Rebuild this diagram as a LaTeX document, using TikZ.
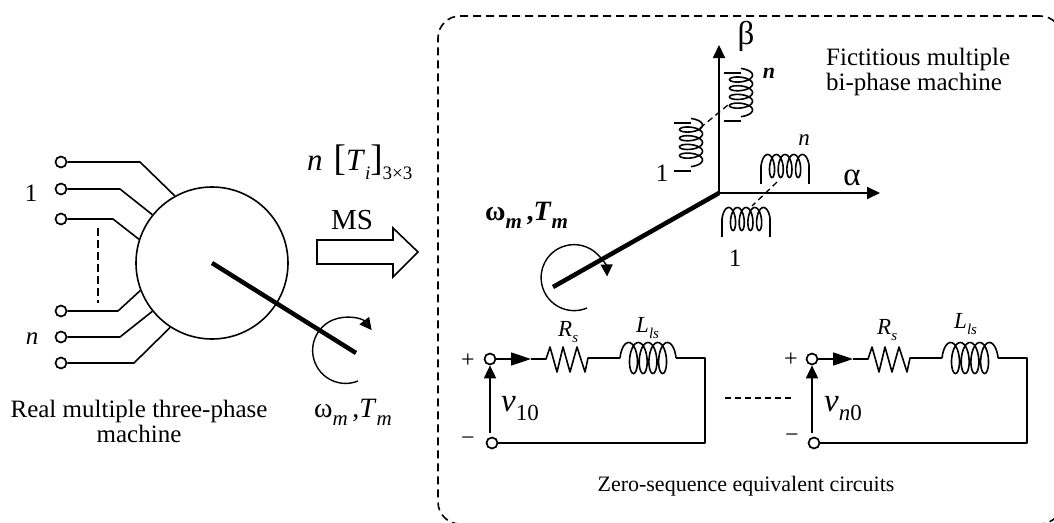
\documentclass[tikz,border=0pt]{standalone}
\usepackage{fontspec}
\setmainfont{Liberation Serif}
\usetikzlibrary{arrows.meta,positioning}
\newcommand{\px}[1]{\fontsize{#1}{#1}\selectfont}
\newcommand{\lowtxt}[2]{\raisebox{-.3em}{\px{#1}#2}}
% coil: position, rotation, pitch, loop half width, loop height
\newcommand{\coil}[5]{\draw[wire,shift={(#1)},rotate=#2] plot[smooth,domain=0:1620,samples=163,variable=\t] ({#3*\t/360-#4*cos(\t)},{-#5*sin(\t)});}
\begin{document}
\begin{tikzpicture}[
  x=1pt,y=-1pt,
  font=\px{25},
  txt/.style={inner sep=0pt,align=center},
  wire/.style={line width=1.6pt,line join=round},
  term/.style={draw,circle,line width=1.7pt,fill=white,inner sep=0pt,minimum size=11pt},
  arr/.style={line width=1.8pt,-{Triangle[length=13pt,width=12pt]}},
  flow/.style={line width=1.6pt,-{Triangle[length=20pt,width=13pt]}},
  turn/.style={line width=1.4pt,-{Triangle[length=12pt,width=12pt]}},
  link/.style={line width=1.3pt,dash pattern=on 6pt off 4pt},
  shaft/.style={line width=4.5pt}
]
\useasboundingbox (0,0) rectangle (1054,522);
\clip (0,0) rectangle (1054,522);
% real machine
\node[draw,circle,line width=1.6pt,minimum size=152pt,inner sep=0pt] (machine) at (212,263) {};
\node[term] (ta) at (61,162) {};
\node[term] (tb) at (61,189) {};
\node[term] (tc) at (61,219) {};
\node[term] (td) at (61,311) {};
\node[term] (te) at (61,337) {};
\node[term] (tf) at (61,363) {};
\draw[wire] (ta) -- (140,162) -- (machine.119);
\draw[wire] (tb) -- (120,189) -- (machine.141);
\draw[wire] (tc) -- (113,219) -- (machine.162);
\draw[wire] (td) -- (118,311) -- (machine.201);
\draw[wire] (te) -- (120,337) -- (machine.219);
\draw[wire] (tf) -- (134,363) -- (machine.237);
\coordinate (dashtop) at (98,228);
\coordinate (dashbot) at (98,303);
\draw[link,line width=1.5pt,dash pattern=on 8pt off 4pt] (dashtop) -- (dashbot);
\coordinate (shaftend) at (356,353);
\draw[shaft] (machine.center) -- (shaftend);
\draw[turn] (358,381) arc[start angle=68,end angle=322,radius=33];
\node[txt] (one) at (31,193) {1};
\node[txt] (enn) at (32,339) {\itshape n};
\node[txt] (real) at (139,421) {Real multiple three-phase\\machine};
\node[txt,anchor=base west,font=\px{28}] (speed) at (314,417) {ω\lowtxt{21}{\textit{m}}\,,\textit{T}\lowtxt{21}{\textit{m}}};
% transformation
\node[txt,anchor=base west,font=\px{31}] (matrix) at (307,170) {\textit{n}\hspace{11pt}{\px{37}[}\textit{T}\lowtxt{19}{\textit{i}}{\px{37}]}\lowtxt{19}{3×3}};
\node[txt,font=\px{29}] (ms) at (352,220) {MS};
\draw[line width=1.6pt,line join=miter] (317,240) -- (393,240) -- (393,228) -- (418,252) -- (393,277) -- (393,264) -- (317,264) -- cycle;
% fictitious machine
\node[draw,dashed,dash pattern=on 8pt off 5pt,line width=1.6pt,rounded corners=22pt,minimum width=624pt,minimum height=508pt,inner sep=0pt] (fict) at (750,270) {};
\coordinate (org) at (719,193);
\coordinate (betaend) at (719,45);
\coordinate (alphaend) at (880,193);
\coordinate (rotorend) at (553,287);
\draw[arr] (org) -- (betaend);
\draw[arr] (org) -- (alphaend);
\draw[shaft] (org) -- (rotorend);
\draw[turn] (587,308) arc[start angle=67,end angle=358,radius=33];
\coil{741,73}{-90}{8.7}{4.5}{11.5}
\draw[wire] (724,73) -- (741,73) (724,121) -- (741,121);
\coil{691,123}{-90}{8.7}{4.5}{11.5}
\draw[wire] (674,123) -- (691,123) (674,171) -- (691,171);
\coil{765.5,166}{0}{8.7}{4.5}{11.5}
\draw[wire] (761,184) -- (761,166) (809,184) -- (809,166);
\coil{726.5,219}{0}{8.7}{4.5}{11.5}
\draw[wire] (722,237) -- (722,219) (770,237) -- (770,219);
\draw[link] (700,128) -- (728,105);
\draw[link] (777,182) -- (752,206);
\node[txt,font=\px{33}] (beta) at (746,36) {β};
\node[txt,font=\px{33}] (alpha) at (852,178) {α};
\node[txt,font=\bfseries\itshape\px{22}] (betan) at (769,73) {n};
\node[txt,font=\itshape\px{23}] (alphan) at (804,140) {n};
\node[txt] (betaone) at (662,173) {1};
\node[txt] (alphaone) at (735,258) {1};
\node[txt,anchor=west,align=left] (fname) at (826,72) {Fictitious multiple\\bi-phase machine};
\node[txt,anchor=base west,font=\bfseries\px{28}] (rotor) at (485,220) {ω\lowtxt{21}{\textit{m}}\,,\textit{T}\lowtxt{21}{\textit{m}}};
% zero-sequence circuits
\foreach \dx in {0,322}{
  \begin{scope}[xshift=\dx pt]
    \node[term] (up\dx) at (490,359) {};
    \node[term] (lo\dx) at (492,443) {};
    \coordinate (mid\dx) at (531,359);
    \coordinate (ind\dx) at (620,358);
    \draw[flow] (up\dx) -- (mid\dx);
    \draw[wire] (mid\dx) -- (546,359) -- (550,347) -- (557,372) -- (563,347) -- (570,372) -- (577,347) -- (585,372) -- (588,358) -- (ind\dx);
    \coil{626.2,358}{0}{9.7}{6.2}{15.5}
    \draw[wire] (676,358) -- (705,358) -- (705,443) -- (lo\dx);
    \draw[arr] (490,433) -- (up\dx);
  \end{scope}
}
\node[txt,font=\px{24}] (plusa) at (468,361) {+};
\node[txt,font=\px{24}] (minusa) at (468,441) {−};
\node[txt,font=\px{24}] (plusb) at (791,360) {+};
\node[txt,font=\px{24}] (minusb) at (792,438) {−};
\node[txt,anchor=base west,font=\px{33}] (vone) at (501,411) {\textit{v}\lowtxt{23}{10}};
\node[txt,anchor=base west,font=\px{33}] (vtwo) at (824,411) {\textit{v}\lowtxt{23}{\textit{n}0}};
\node[txt,anchor=base west,font=\px{23}] (rone) at (558,336) {\textit{R}\lowtxt{15}{\textit{s}}};
\node[txt,anchor=base west,font=\px{23}] (ltwo) at (954,328) {\textit{L}\lowtxt{15}{\textit{ls}}};
\node[txt,anchor=base west,font=\px{23}] (ltwoa) at (636,332) {\textit{L}\lowtxt{15}{\textit{ls}}};
\node[txt,anchor=base west,font=\px{23}] (rtwo) at (877,334) {\textit{R}\lowtxt{15}{\textit{s}}};
\coordinate (gapl) at (725,398);
\coordinate (gapr) at (792,398);
\draw[link,line width=1.5pt] (gapl) -- (gapr);
\node[txt,font=\px{22}] (zero) at (746,486) {Zero-sequence equivalent circuits};
\end{tikzpicture}
\end{document}
